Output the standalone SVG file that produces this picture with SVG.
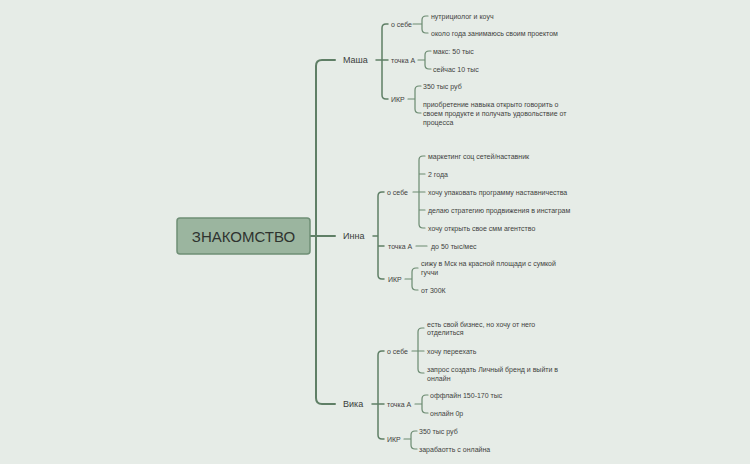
<svg xmlns="http://www.w3.org/2000/svg" width="750" height="464" viewBox="0 0 750 464">
<style>
.bg{fill:#e6ece7}
.trunk{fill:none;stroke:#5f7f66;stroke-width:2;stroke-linecap:round}
.br{fill:none;stroke:#5f7f66;stroke-width:1.5;stroke-linecap:round}
.sb{fill:none;stroke:#6a8a70;stroke-width:1.2;stroke-linecap:round}
.root{fill:#9bb59f;stroke:#6f8f76;stroke-width:1.5}
.rt{font-family:"Liberation Sans",Arial,sans-serif;font-size:15px;fill:#2e332f;text-anchor:middle}
.l1{font-family:"Liberation Sans",Arial,sans-serif;font-size:9px;fill:#3a3d3b}
.l2{font-family:"Liberation Sans",Arial,sans-serif;font-size:7px;fill:#3f4240}
.l3{font-family:"Liberation Sans",Arial,sans-serif;font-size:7px;fill:#3f4240}
</style>
<rect class="bg" x="0" y="0" width="750" height="464"/>
<g id="connectors">
<path class="trunk" d="M310,236 H335 M335,60 H322 Q316,60 316,66 V398 Q316,404 322,404 H335"/>
<!-- Маша -->
<path class="br" d="M376,60 H388 M388,24 H386 Q382,24 382,28 V95 Q382,99 386,99 H388"/>
<path class="sb" d="M413,24 H422 M428,16 H426 Q422,16 422,20 V29 Q422,33 426,33 H428"/>
<path class="sb" d="M418,60 H425 M431,51 H429 Q425,51 425,55 V65 Q425,69 429,69 H431"/>
<path class="sb" d="M408,99 H415 M421,86 H419 Q415,86 415,90 V109 Q415,113 419,113 H421"/>
<!-- Инна -->
<path class="br" d="M373,236 H378 M378,246 H384 M384,192 H382 Q378,192 378,196 V275 Q378,279 382,279 H384"/>
<path class="sb" d="M413,192 H425 M419,174 H425 M419,210 H425 M425,156 H423 Q419,156 419,160 V224 Q419,228 423,228 H425"/>
<path class="sb" d="M416,246 H427"/>
<path class="sb" d="M405,279 H412 M418,268 H416 Q412,268 412,272 V286 Q412,290 416,290 H418"/>
<!-- Вика -->
<path class="br" d="M372,404 H384 M384,351 H382 Q378,351 378,355 V435 Q378,439 382,439 H384"/>
<path class="sb" d="M412,351 H424 M424,328 H422 Q418,328 418,332 V369 Q418,373 422,373 H424"/>
<path class="sb" d="M415,404 H422 M428,395 H426 Q422,395 422,399 V409 Q422,413 426,413 H428"/>
<path class="sb" d="M404,439 H411 M417,431 H415 Q411,431 411,435 V445 Q411,449 415,449 H417"/>
</g>
<g id="root">
<rect class="root" x="177" y="218" width="133" height="36" rx="3"/>
<text class="rt" x="243.5" y="241.5">ЗНАКОМСТВО</text>
</g>
<g id="masha">
<text class="l1" x="343" y="63">Маша</text>
<g id="masha-about">
<text class="l2" x="391" y="26.5">о себе</text>
<text class="l3" x="431" y="18.5">нутрициолог и коуч</text>
<text class="l3" x="431" y="35.5">около года занимаюсь своим проектом</text>
</g>
<g id="masha-pointA">
<text class="l2" x="391" y="62.5">точка А</text>
<text class="l3" x="433" y="53.5">макс: 50 тыс</text>
<text class="l3" x="433" y="71.5">сейчас 10 тыс</text>
</g>
<g id="masha-ikr">
<text class="l2" x="391" y="101.5">ИКР</text>
<text class="l3" x="423" y="88.5">350 тыс руб</text>
<text class="l3" x="423" y="106.5">приобретение навыка открыто говорить о</text>
<text class="l3" x="423" y="115.5">своем продукте и получать удовольствие от</text>
<text class="l3" x="423" y="124.5">процесса</text>
</g>
</g>
<g id="inna">
<text class="l1" x="343" y="239">Инна</text>
<g id="inna-about">
<text class="l2" x="387" y="194.5">о себе</text>
<text class="l3" x="428" y="158.5">маркетинг соц сетей/наставник</text>
<text class="l3" x="428" y="176.5">2 года</text>
<text class="l3" x="428" y="194.5">хочу упаковать программу наставничества</text>
<text class="l3" x="428" y="212.5">делаю стратегию продвижения в инстаграм</text>
<text class="l3" x="428" y="230.5">хочу открыть свое смм агентство</text>
</g>
<g id="inna-pointA">
<text class="l2" x="388" y="248.5">точка А</text>
<text class="l3" x="431" y="248.5">до 50 тыс/мес</text>
</g>
<g id="inna-ikr">
<text class="l2" x="388" y="281.5">ИКР</text>
<text class="l3" x="421" y="266">сижу в Мск на красной площади с сумкой</text>
<text class="l3" x="421" y="275">гуччи</text>
<text class="l3" x="421" y="292.5">от 300К</text>
</g>
</g>
<g id="vika">
<text class="l1" x="343" y="407">Вика</text>
<g id="vika-about">
<text class="l2" x="387" y="353.5">о себе</text>
<text class="l3" x="427" y="326.5">есть свой бизнес, но хочу от него</text>
<text class="l3" x="427" y="335">отделиться</text>
<text class="l3" x="427" y="353.5">хочу переехать</text>
<text class="l3" x="427" y="371.5">запрос создать Личный бренд и выйти в</text>
<text class="l3" x="427" y="380.5">онлайн</text>
</g>
<g id="vika-pointA">
<text class="l2" x="387" y="406.5">точка А</text>
<text class="l3" x="430" y="397.5">оффлайн 150-170 тыс</text>
<text class="l3" x="430" y="415.5">онлайн 0р</text>
</g>
<g id="vika-ikr">
<text class="l2" x="387" y="441.5">ИКР</text>
<text class="l3" x="419" y="433.5">350 тыс руб</text>
<text class="l3" x="419" y="451.5">зарабаотть с онлайна</text>
</g>
</g>
</svg>
